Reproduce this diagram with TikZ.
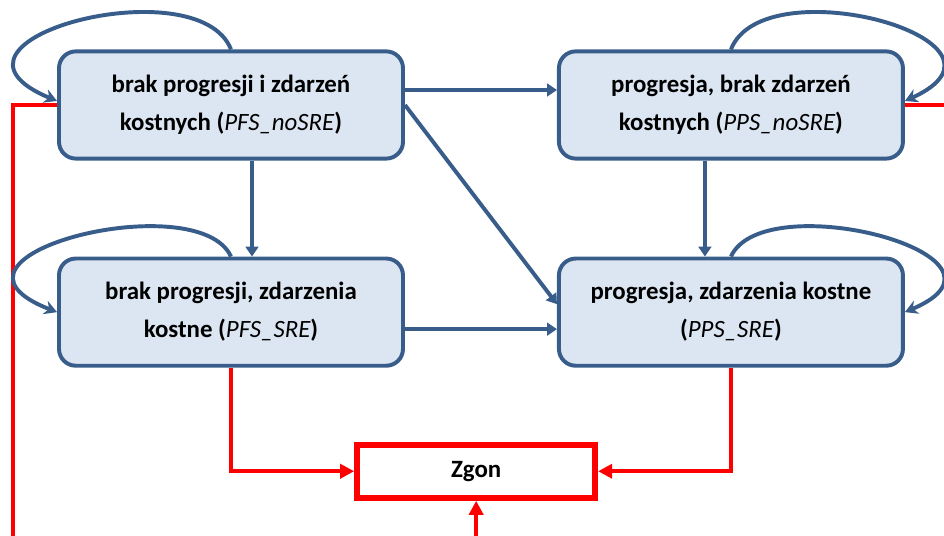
\documentclass[tikz,border=0pt]{standalone}
\usepackage{fontspec}
\setmainfont{Carlito}
\usetikzlibrary{positioning,calc,arrows.meta}
\definecolor{stanline}{RGB}{56,93,138}
\definecolor{stanfill}{RGB}{220,230,242}
\definecolor{zgonred}{RGB}{255,0,0}
\newcommand{\kod}[1]{{\mdseries\itshape #1}}

\begin{document}
\begin{tikzpicture}[
    node distance=2.4cm and 3.8cm,
    state/.style={rectangle, draw=stanline, fill=stanfill, line width=2.8pt,
                  rounded corners=0.42cm, minimum width=8.6cm, minimum height=2.68cm,
                  align=center, font=\fontsize{17.7}{27}\selectfont\bfseries},
    death/.style={rectangle, draw=zgonred, line width=4.2pt, minimum width=5.95cm,
                  minimum height=1.33cm, font=\fontsize{17.7}{27}\selectfont\bfseries},
    arrow/.style={-{Triangle[length=7pt,width=9pt]}, draw=stanline, line width=2.8pt},
    selfloop/.style={-{Stealth[length=9pt,width=10pt]}, draw=stanline, line width=2.8pt},
    deadline/.style={draw=zgonred, line width=3pt},
    deadarrow/.style={deadline, -{Triangle[length=10pt,width=10pt]}}
]
\useasboundingbox (0,0) rectangle (23.6,13.4);

%% ── States ───────────────────────────────────────────────────────
\node[state] (A) at (5.775,10.775) {brak progresji i zdarzeń\\kostnych (\kod{PFS\_noSRE})};
\node[state, right=of A] (B) {progresja, brak zdarzeń\\kostnych (\kod{PPS\_noSRE})};
\node[state, below=of A] (C) {brak progresji, zdarzenia\\kostne (\kod{PFS\_SRE})};
\node[state, right=of C] (D) {progresja, zdarzenia kostne\\(\kod{PPS\_SRE})};
\node[death, below=1.85cm of $(C.south)!0.5!(D.south)$, xshift=-0.12cm] (Z) {Zgon};

%% ── Exits to the picture edge ────────────────────────────────────
\coordinate (leftexit) at (0.325,0);
\coordinate (rightexit) at (23.6,0);
\coordinate (bottomexit) at (Z.south |- 0,0);

%% ── Death transitions ────────────────────────────────────────────
\draw[deadline] (A.west) -| (leftexit);
\draw[deadline] (B.east) -- (B.east -| rightexit);
\draw[deadarrow] (C.south) |- (Z.west);
\draw[deadarrow] (D.south) |- (Z.east);
\draw[deadarrow] (bottomexit) -- (Z.south);

%% ── Transitions between states ───────────────────────────────────
\draw[arrow] ([yshift=0.375cm]A.east) -- ([yshift=0.375cm]B.west);
\draw[arrow] ([xshift=0.525cm]A.south) -- ([xshift=0.525cm]A.south |- C.north);
\draw[arrow] (A.east) -- ([yshift=0.2cm]D.west);
\draw[arrow] ([xshift=-0.65cm]B.south) -- ([xshift=-0.65cm]B.south |- D.north);
\draw[arrow] ([yshift=-0.425cm]C.east) -- ([yshift=-0.425cm]D.west);

%% ── Staying in a state ───────────────────────────────────────────
\draw[selfloop] (A.north) .. controls +(-0.825,2.1) and +(-3.6,1.5) .. ([yshift=0.1cm]A.west);
\draw[selfloop] (B.north) .. controls +(0.825,2.1) and +(3.3,1.5) .. ([yshift=0.1cm]B.east);
\draw[selfloop] (C.north) .. controls +(-0.825,1.8) and +(-3.6,1.4) .. (C.west);
\draw[selfloop] (D.north) .. controls +(0.825,1.8) and +(3.3,1.4) .. (D.east);

\end{tikzpicture}
\end{document}
